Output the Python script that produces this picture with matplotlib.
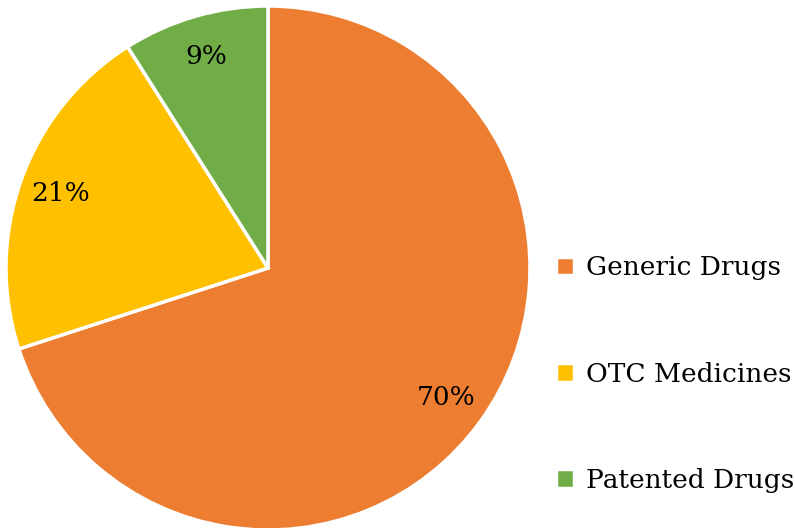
import matplotlib
matplotlib.use('Agg')
import matplotlib.pyplot as plt

# data
categories = ['Generic Drugs', 'OTC Medicines', 'Patented Drugs']
shares = [70, 21, 9]
colors = ['#ED7D31', '#FFC000', '#70AD47']

plt.rcParams['font.family'] = ['DejaVu Serif']

fig = plt.figure(figsize=(7.95, 5.28), dpi=100)
ax = fig.add_axes([6 / 795, -2 / 528, 524 / 795, 524 / 528])

wedges, texts, autotexts = ax.pie(
    shares, colors=colors, startangle=90, counterclock=False,
    autopct='%d%%', pctdistance=0.84,
    wedgeprops=dict(edgecolor='white', linewidth=2.5),
    textprops=dict(fontsize=19, color='black'))
ax.set_xlim(-1, 1)
ax.set_ylim(-1, 1)
ax.set_aspect('equal')

fig.legend(wedges, categories, loc='center left',
           bbox_to_anchor=(556 / 795, 1 - 374 / 528),
           frameon=False, fontsize=19, labelspacing=3.07,
           handlelength=0.7, handleheight=0.7, handletextpad=0.45,
           borderpad=0, borderaxespad=0)

fig.savefig('out.png', dpi=100)
